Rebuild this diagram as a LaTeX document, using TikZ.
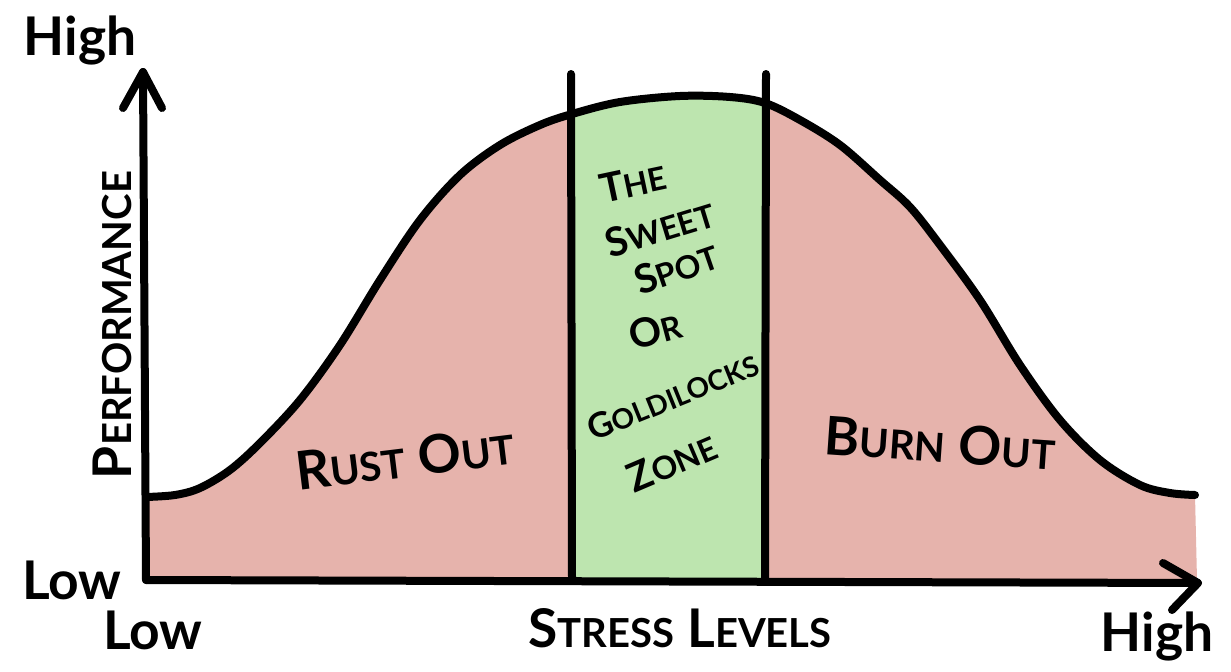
\documentclass[tikz,border=0pt]{standalone}
\usepackage{fontspec}
\setmainfont{Lato}
\definecolor{rustpink}{HTML}{E6B3AC}
\definecolor{sweetgreen}{HTML}{BDE5AF}
\newcommand\sk[2]{#1{\fontsize{30}{30}\selectfont #2}}
\newcommand\gk[2]{#1{\fontsize{24}{24}\selectfont #2}}
\newcommand\gks[2]{#1{\fontsize{21}{21}\selectfont #2}}
\tikzset{
  thick line/.style={line width=6pt, line cap=round, line join=round, black},
  hand/.style={font=\bfseries\fontsize{40}{40}\selectfont, inner sep=0pt, text=black},
  handbig/.style={font=\bfseries\fontsize{40}{40}\selectfont, inner sep=0pt, text=black},
  green hand/.style={font=\bfseries\fontsize{30}{30}\selectfont, inner sep=0pt, text=black},
}
\begin{document}
\begin{tikzpicture}[x=0.75pt,y=-0.75pt]
\useasboundingbox (0,0) rectangle (1231,671);
\def\curve{(146,497) (175,495) (200,488) (230,470) (260,443) (300,400) (340,345) (380,280) (420,220) (460,175) (500,145) (540,125) (572,114) (620,102) (680,96) (730,97) (765,103) (800,120) (840,145) (880,180) (910,207) (940,245) (980,300) (1020,365) (1060,420) (1100,460) (1140,485) (1170,493) (1195,495)}
% fills
\fill[rustpink] (146,580) -- plot[smooth,tension=0.55] coordinates {\curve} -- (1197,580) -- cycle;
\begin{scope}
\clip (146,580) -- plot[smooth,tension=0.55] coordinates {\curve} -- (1197,580) -- cycle;
\fill[sweetgreen] (572,0) rectangle (765,580);
\end{scope}
% curve
\draw[thick line] plot[smooth,tension=0.55] coordinates {\curve};
% vertical lines
\coordinate (l1t) at (571,74);
\coordinate (l1b) at (572,580);
\coordinate (l2t) at (766,74);
\coordinate (l2b) at (765,580);
\draw[thick line] (l1t) -- (l1b);
\draw[thick line] (l2t) -- (l2b);
% axes
\coordinate (O) at (146,580);
\coordinate (ytip) at (143,72);
\coordinate (xtip) at (1198,583);
\draw[thick line] (O) -- (ytip);
\draw[thick line] (O) -- (xtip);
\draw[thick line] (ytip) ++(-20,36) -- (ytip) -- ++(19,36);
\draw[thick line] (xtip) ++(-35,-20) -- (xtip) -- ++(-26,27);
% axis labels
\node[handbig] (yhigh) at (80,40) {High};
\node[handbig] (ylow) at (72,580) {Low};
\node[handbig] (xlow) at (153,630) {Low};
\node[handbig] (xhigh) at (1157,636) {High};
\node[hand] (xlabel) at (680,628) {\sk{S}{TRESS} \sk{L}{EVELS}};
\node[hand, rotate=90] (ylabel) at (112,325) {\sk{P}{ERFORMANCE}};
% regions
\node[hand, rotate=7] (rust) at (405,458) {\sk{R}{UST} \sk{O}{UT}};
\node[hand, rotate=-4] (burn) at (940,443) {\sk{B}{URN} \sk{O}{UT}};
% sweet spot text
\node[green hand, rotate=12] (the) at (633,182) {\gk{T}{HE}};
\node[green hand, rotate=17] (sweet) at (660,228) {\gk{S}{WEET}};
\node[green hand, rotate=19] (spot) at (676,268) {\gk{S}{POT}};
\node[green hand, rotate=15] (or) at (655,330) {\gk{O}{R}};
\node[green hand, rotate=22, font=\bfseries\fontsize{26}{26}\selectfont] (goldi) at (673,396) {\gks{G}{OLDILOCKS}};
\node[green hand, rotate=23] (zone) at (672,462) {\gk{Z}{ONE}};
\end{tikzpicture}
\end{document}
